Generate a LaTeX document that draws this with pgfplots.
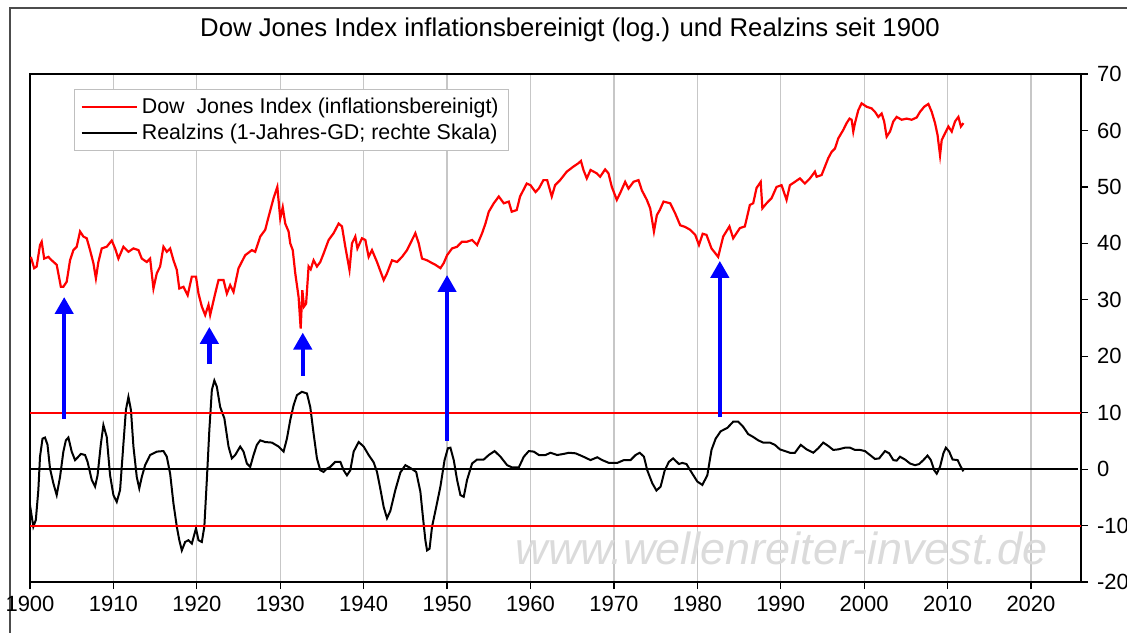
\documentclass[border=0pt]{standalone}
\usepackage{fontspec}
\setmainfont{Liberation Sans}
\usepackage{pgfplots}
\pgfplotsset{compat=1.18}
\usetikzlibrary{arrows.meta}

\begin{document}
\begin{tikzpicture}[x=1pt,y=1pt]
\clip (0,0) rectangle (563.5,316);
\path[use as bounding box] (0,0) rectangle (563.5,316);
\draw[black!70, line width=0.8pt] (5,-5) -- (5,312) -- (570,312);
\node[font=\fontsize{12.85}{14}\selectfont] at (285,301) {Dow Jones Index inflationsbereinigt (log.) und Realzins seit 1900};
\begin{axis}[
  at={(15pt,25pt)}, anchor=south west,
  scale only axis, width=525.5pt, height=254pt,
  xmin=1900, xmax=2026, ymin=-20, ymax=70,
  xtick={1900,1910,...,2020},
  ytick={-20,-10,...,70},
  xtick pos=left, ytick pos=right,
  yticklabel pos=right,
  tick align=outside,
  major tick length=3.5pt,
  xmajorgrids, grid style={black!22, line width=0.6pt},
  axis line style={line width=0.7pt},
  tick style={black, line width=0.6pt},
  /pgf/number format/1000 sep={},
  /pgf/number format/assume math mode=true,
  ticklabel style={font=\fontsize{11}{13}\selectfont},
  yticklabel style={xshift=1pt},
  legend style={at={(0.0419,0.9705)}, anchor=north west, draw=black!25, line width=0.6pt,
    font=\fontsize{10.7}{12}\selectfont, inner xsep=3pt, inner ysep=2pt, row sep=0pt,
    cells={anchor=west}},
  legend image code/.code={\draw[#1] (0pt,0pt) -- (27.5pt,0pt);},
]
\node[font=\itshape\fontsize{22.5}{23}\selectfont, text=black!14] at (axis cs:1990.1,-14.0) {www.wellenreiter-invest.de};

\addplot[red, line width=1.1pt] coordinates {
(1900.1,37.6) (1900.5,35.6) (1900.8,35.9) (1901.2,39.7) (1901.4,40.3) (1901.7,37.3) (1902.2,37.6) (1902.6,37.0) (1903.2,36.2) (1903.7,32.3) (1904.0,32.3) (1904.4,33.2) (1904.8,37.0) (1905.2,38.8) (1905.6,39.4) (1906.0,42.1) (1906.4,41.2) (1906.8,40.9) (1907.2,38.8) (1907.6,36.5) (1907.9,33.8) (1908.2,36.7) (1908.6,39.1) (1909.2,39.4) (1909.8,40.5) (1910.2,39.1) (1910.6,37.3) (1911.2,39.4) (1911.8,38.5) (1912.4,39.1) (1913.0,38.8) (1913.4,37.3) (1914.0,36.7) (1914.4,37.3) (1914.8,32.0) (1915.2,34.7) (1915.6,35.9) (1916.0,39.4) (1916.4,38.5) (1916.8,39.1) (1917.2,37.0) (1917.6,35.3) (1917.9,32.0) (1918.4,32.3) (1918.9,30.8) (1919.4,34.1) (1919.9,34.1) (1920.2,31.1) (1920.6,28.8) (1921.0,27.3) (1921.4,29.1) (1921.6,27.3) (1922.2,31.1) (1922.6,33.5) (1923.2,33.5) (1923.6,31.1) (1924.0,32.6) (1924.4,31.4) (1925.0,35.6) (1925.8,37.9) (1926.6,38.8) (1927.0,38.5) (1927.6,41.2) (1928.2,42.4) (1928.6,44.7) (1929.2,48.0) (1929.65,50.0) (1930.0,44.4) (1930.3,46.4) (1930.6,43.5) (1931.0,42.1) (1931.2,40.0) (1931.5,38.8) (1931.8,34.7) (1932.2,30.5) (1932.45,24.9) (1932.65,31.7) (1932.85,28.8) (1933.1,29.3) (1933.4,35.9) (1933.65,35.4) (1934.0,37.0) (1934.4,35.9) (1934.8,36.7) (1935.2,38.2) (1935.8,40.6) (1936.4,41.8) (1937.0,43.5) (1937.4,43.0) (1937.8,39.4) (1938.3,35.3) (1938.6,40.0) (1939.0,41.2) (1939.25,39.1) (1939.8,40.9) (1940.2,40.6) (1940.6,37.6) (1941.0,38.8) (1941.6,36.7) (1942.4,33.5) (1942.8,34.7) (1943.4,37.0) (1944.0,36.7) (1944.6,37.6) (1945.2,38.8) (1945.8,40.6) (1946.2,41.8) (1946.6,40.0) (1947.0,37.3) (1947.6,37.0) (1948.2,36.5) (1948.6,36.2) (1949.2,35.6) (1949.6,36.5) (1950.0,37.9) (1950.6,39.1) (1951.2,39.4) (1951.8,40.3) (1952.4,40.3) (1953.0,40.6) (1953.6,39.7) (1954.2,41.8) (1954.6,43.5) (1955.0,45.6) (1955.6,47.1) (1956.2,48.3) (1956.8,47.1) (1957.4,47.4) (1957.75,45.6) (1958.35,45.9) (1958.75,48.3) (1959.55,50.6) (1960.0,50.3) (1960.6,49.1) (1961.0,49.7) (1961.55,51.2) (1962.0,51.2) (1962.55,48.3) (1962.95,50.3) (1963.55,51.2) (1964.35,52.7) (1965.15,53.6) (1965.75,54.2) (1966.05,54.6) (1966.35,53.0) (1966.75,51.5) (1967.2,53.0) (1967.95,52.4) (1968.35,51.8) (1968.95,53.1) (1969.35,52.4) (1969.75,50.0) (1970.35,47.7) (1970.75,48.9) (1971.35,50.9) (1971.75,49.7) (1972.35,50.9) (1972.95,51.2) (1973.35,49.4) (1973.95,47.7) (1974.35,46.2) (1974.8,42.1) (1975.15,45.0) (1975.5,45.9) (1975.95,47.4) (1976.75,47.1) (1977.35,45.3) (1977.95,43.2) (1978.55,42.9) (1979.15,42.4) (1979.75,41.5) (1980.2,39.7) (1980.65,41.7) (1981.1,41.5) (1981.7,39.1) (1982.5,37.6) (1983.1,41.2) (1983.85,43.0) (1984.3,40.9) (1985.1,42.7) (1985.7,43.0) (1986.3,46.8) (1986.7,47.1) (1987.1,49.8) (1987.6,50.9) (1987.8,46.2) (1988.3,47.1) (1988.9,48.0) (1989.5,50.0) (1990.1,50.3) (1990.7,47.7) (1991.1,50.3) (1991.7,50.9) (1992.3,51.5) (1992.9,50.6) (1993.5,51.5) (1994.1,52.7) (1994.3,51.8) (1994.9,52.1) (1995.3,53.6) (1995.7,55.1) (1996.1,56.2) (1996.5,56.8) (1996.9,58.6) (1997.5,60.1) (1997.9,61.3) (1998.25,62.1) (1998.5,61.9) (1998.7,59.8) (1998.9,61.3) (1999.3,63.6) (1999.7,64.8) (2000.3,64.2) (2000.9,63.9) (2001.3,63.3) (2001.7,62.4) (2002.1,63.0) (2002.4,61.6) (2002.7,58.9) (2003.1,59.8) (2003.5,61.6) (2003.9,62.4) (2004.5,61.9) (2005.1,62.1) (2005.7,61.9) (2006.3,62.3) (2006.7,63.3) (2007.2,64.2) (2007.7,64.7) (2008.1,63.3) (2008.5,61.3) (2008.8,59.2) (2009.1,55.6) (2009.3,58.3) (2009.7,59.5) (2010.1,60.7) (2010.5,59.8) (2010.9,61.6) (2011.3,62.4) (2011.6,60.7) (2011.9,61.3)
};
\addlegendentry{Dow\ \ Jones Index (inflationsbereinigt)}

\addplot[black, line width=1pt] coordinates {
(1900.0,-6.4) (1900.4,-10.2) (1900.7,-9.0) (1901.0,-3.7) (1901.2,2.2) (1901.5,5.4) (1901.8,5.6) (1902.1,4.3) (1902.4,0.1) (1902.8,-2.5) (1903.2,-4.6) (1903.6,-1.4) (1904.0,3.1) (1904.3,5.1) (1904.6,5.6) (1905.0,3.1) (1905.4,1.6) (1905.8,2.2) (1906.1,2.7) (1906.6,2.5) (1906.9,1.3) (1907.4,-1.9) (1907.8,-3.1) (1908.1,-1.1) (1908.5,4.5) (1908.8,7.8) (1909.2,5.7) (1909.6,-1.1) (1910.0,-4.6) (1910.4,-5.8) (1910.8,-3.7) (1911.2,4.5) (1911.5,10.5) (1911.8,12.8) (1912.1,10.5) (1912.4,4.0) (1912.8,-1.4) (1913.1,-3.4) (1913.4,-1.4) (1913.8,0.7) (1914.4,2.5) (1915.2,3.1) (1916.0,3.2) (1916.4,2.2) (1916.8,-0.8) (1917.2,-6.1) (1917.6,-10.2) (1917.9,-12.6) (1918.2,-14.4) (1918.6,-12.9) (1919.0,-12.6) (1919.4,-13.2) (1919.9,-10.5) (1920.2,-12.6) (1920.6,-12.9) (1920.9,-10.2) (1921.2,-1.9) (1921.5,6.9) (1921.8,14.0) (1922.1,15.7) (1922.4,14.6) (1922.8,11.0) (1923.3,9.0) (1923.8,4.0) (1924.2,1.9) (1924.6,2.5) (1925.2,4.0) (1925.6,3.1) (1926.0,1.0) (1926.4,0.4) (1926.8,2.5) (1927.2,4.3) (1927.6,5.1) (1928.2,4.8) (1929.0,4.7) (1929.8,4.0) (1930.4,3.1) (1930.8,5.4) (1931.2,8.7) (1931.6,11.3) (1932.0,13.1) (1932.6,13.7) (1933.2,13.4) (1933.6,11.0) (1934.0,6.3) (1934.4,1.9) (1934.8,-0.2) (1935.2,-0.5) (1935.6,0.1) (1936.0,0.4) (1936.6,1.3) (1937.2,1.3) (1937.6,-0.2) (1938.0,-1.1) (1938.4,-0.2) (1938.8,3.1) (1939.4,4.8) (1940.0,4.0) (1940.6,2.5) (1941.2,1.2) (1941.6,-0.5) (1942.0,-3.5) (1942.4,-6.7) (1942.8,-8.7) (1943.2,-7.4) (1943.8,-3.7) (1944.4,-0.6) (1945.0,0.7) (1945.6,0.2) (1946.3,-0.5) (1946.8,-4.0) (1947.1,-8.4) (1947.4,-12.6) (1947.6,-14.4) (1947.9,-14.1) (1948.2,-10.2) (1948.7,-6.7) (1949.2,-3.1) (1949.7,1.6) (1950.1,3.7) (1950.4,3.8) (1950.8,1.6) (1951.2,-1.9) (1951.6,-4.6) (1952.0,-4.9) (1952.4,-1.9) (1953.0,1.0) (1953.6,1.7) (1954.4,1.7) (1955.0,2.5) (1955.7,3.2) (1956.4,2.2) (1957.2,0.7) (1957.8,0.3) (1958.6,0.3) (1959.2,2.2) (1959.8,3.2) (1960.4,3.1) (1961.0,2.5) (1961.8,2.5) (1962.4,2.9) (1963.2,2.5) (1964.0,2.7) (1964.6,2.9) (1965.4,2.8) (1966.2,2.3) (1967.2,1.6) (1968.0,2.1) (1968.6,1.6) (1969.4,1.1) (1970.4,1.1) (1971.2,1.6) (1972.0,1.6) (1972.6,2.5) (1973.1,2.9) (1973.6,2.2) (1974.0,-0.2) (1974.6,-2.5) (1975.1,-3.8) (1975.6,-3.1) (1976.1,-0.2) (1976.6,1.3) (1977.1,1.9) (1977.8,0.9) (1978.2,1.1) (1978.7,0.9) (1979.4,-0.8) (1980.0,-2.2) (1980.6,-2.8) (1981.2,-1.1) (1981.7,3.4) (1982.2,5.4) (1982.8,6.7) (1983.6,7.3) (1984.3,8.4) (1984.9,8.4) (1985.5,7.5) (1986.1,6.2) (1986.7,5.7) (1987.3,5.1) (1987.9,4.7) (1988.7,4.7) (1989.3,4.3) (1989.9,3.5) (1990.5,3.2) (1991.1,2.9) (1991.7,2.9) (1992.4,4.3) (1993.1,3.5) (1993.9,2.9) (1994.5,3.7) (1995.1,4.7) (1995.7,4.1) (1996.3,3.4) (1996.9,3.5) (1997.7,3.8) (1998.3,3.8) (1998.9,3.4) (1999.5,3.4) (2000.1,3.2) (2000.7,2.5) (2001.3,1.8) (2001.8,1.9) (2002.5,3.2) (2003.0,2.8) (2003.5,1.6) (2003.9,1.5) (2004.3,2.2) (2004.9,1.7) (2005.5,1.0) (2006.1,0.7) (2006.6,0.9) (2007.1,1.6) (2007.6,2.4) (2008.0,1.6) (2008.4,-0.2) (2008.7,-0.8) (2009.1,0.4) (2009.5,2.8) (2009.8,3.8) (2010.2,3.1) (2010.6,1.7) (2011.2,1.6) (2011.6,0.4) (2011.9,-0.4)
};
\addlegendentry{Realzins (1-Jahres-GD; rechte Skala)}

\addplot[red, line width=1pt, forget plot] coordinates {(1900,10) (2026,10)};
\addplot[red, line width=1pt, forget plot] coordinates {(1900,-10) (2026,-10)};
\addplot[black, line width=1pt, forget plot] coordinates {(1900,0) (2025.6,0)};

\addplot[blue, line width=2.2pt, -{Triangle[width=9pt,length=8.5pt]}, forget plot] coordinates {(1904.1,8.9) (1904.1,30.5)};
\addplot[blue, line width=2.2pt, -{Triangle[width=9pt,length=8.5pt]}, forget plot] coordinates {(1921.5,18.6) (1921.5,25.2)};
\addplot[blue, line width=2.2pt, -{Triangle[width=9pt,length=8.5pt]}, forget plot] coordinates {(1932.7,16.5) (1932.7,24.2)};
\addplot[blue, line width=2.2pt, -{Triangle[width=9pt,length=8.5pt]}, forget plot] coordinates {(1950.0,5.0) (1950.0,34.4)};
\addplot[blue, line width=2.2pt, -{Triangle[width=9pt,length=8.5pt]}, forget plot] coordinates {(1982.7,9.2) (1982.7,36.9)};
\end{axis}
\end{tikzpicture}
\end{document}
